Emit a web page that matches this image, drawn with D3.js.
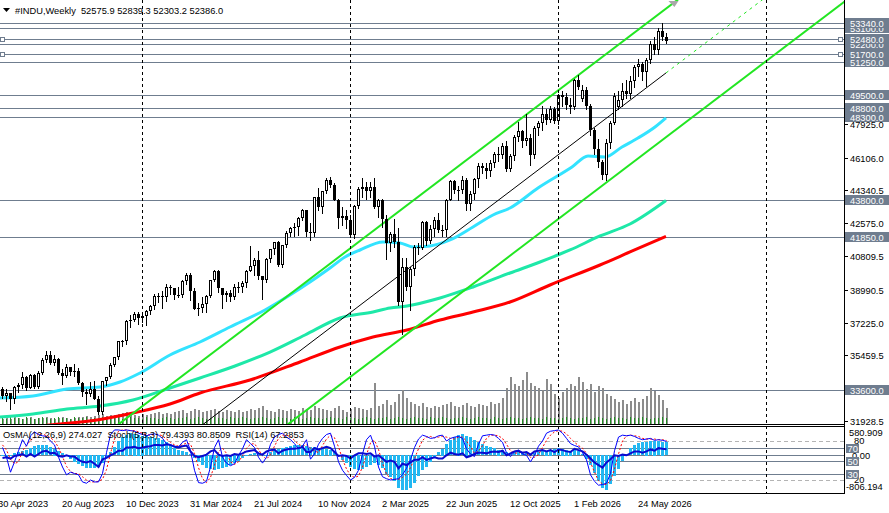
<!DOCTYPE html>
<html>
<head>
<meta charset="utf-8">
<script src="https://cdn.jsdelivr.net/npm/d3@7"></script>
<style>
  body { margin: 0; background: #fff; }
  svg { display: block; font-family: "Liberation Sans", Arial, sans-serif; font-size: 9.3px; }
  text { white-space: pre; }
</style>
</head>
<body>
<div id="chart"></div>
<script>
// weekly bars, bar 0 = week of 30 Apr 2023, first drawn bar = 1
const firstBar = 1;
// [open, high, low, close]
const candles = [
  [33674,33760,33180,33300],[33300,33650,32990,33427],[33427,33450,32580,33093],[33093,33800,32900,33762],[33762,34000,33470,33876],
  [33876,34590,33700,34299],[34299,34330,33610,33727],[33727,34450,33680,34408],[34408,34470,33690,33734],[33734,34600,33700,34509],
  [34509,35310,34480,35228],[35228,35680,35080,35459],[35459,35680,35000,35065],[35065,35490,34950,35281],[35281,35300,34470,34500],
  [34500,34720,33900,34346],[34346,34980,34300,34837],[34837,34850,34400,34577],[34577,34980,34370,34618],[34618,34800,33900,33964],
  [33964,34050,33280,33508],[33508,33650,32850,33407],[33407,34010,33300,33670],[33670,34080,33100,33127],[33127,33300,32330,32418],
  [32418,34100,32330,34061],[34061,34300,33860,34283],[34283,35060,34250,34947],[34947,35390,34900,35390],[35390,36250,35290,36245],
  [36245,36300,35980,36248],[36248,37360,36100,37305],[37305,37640,37000,37385],[37385,37780,37300,37690],[37690,37790,37130,37466],
  [37466,37790,37270,37593],[37593,37900,37120,37863],[37863,38200,37700,38109],[38109,38780,37950,38654],[38654,38800,38350,38671],
  [38671,38930,38000,38628],[38628,39280,38400,39131],[39131,39260,38750,39087],[39087,39110,38520,38723],[38723,39150,38580,38715],
  [38715,39530,38630,39475],[39475,39890,39280,39807],[39807,39900,38430,38904],[38904,39100,37950,37983],[37983,38300,37610,37986],
  [37986,38580,37800,38240],[38240,38700,37810,38676],[38676,39540,38600,39513],[39513,40080,39440,40004],[40004,40080,38900,39070],
  [39070,39090,38000,38686],[38686,38920,38400,38799],[38799,39000,38400,38589],[38589,39300,38500,39150],[39150,39400,38900,39119],
  [39119,39450,38900,39376],[39376,40050,39150,40001],[40001,41370,39980,40288],[40288,40700,39800,40589],[40589,41100,39600,39737],
  [39737,39750,38500,39497],[39497,40700,39400,40660],[40660,41200,40500,41175],[41175,41590,40900,41563],[41563,41600,40300,40345],
  [40345,41400,40200,41394],[41394,42150,41300,42063],[42063,42400,41900,42313],[42313,42600,41900,42352],[42352,42900,41950,42864],
  [42864,43330,42750,43276],[43276,43300,41900,42114],[42114,42600,41700,42052],[42052,44000,41900,43989],[43989,44480,43300,43445],
  [43445,44300,43100,44297],[44297,44990,44200,44911],[44911,45073,44500,44643],[44643,44750,43800,43828],[43828,43900,42300,42840],
  [42840,43450,42500,42992],[42992,43300,42300,42732],[42732,43000,41850,41938],[41938,43550,41800,43488],[43488,44500,43400,44424],
  [44424,45000,44000,44545],[44545,44800,43900,44303],[44303,44800,44000,44546],[44546,45000,43400,43428],[43428,43900,42900,43841],
  [43841,43900,42400,42802],[42802,43000,40660,41488],[41488,42100,41100,41985],[41985,42800,41300,41584],[41584,42300,38200,38315],
  [38315,40700,36612,40213],[40213,40700,39000,39142],[39142,40200,37900,40114],[40114,41400,39800,41317],[41317,41500,40900,41249],
  [41249,42700,41200,42655],[42655,42700,41400,41603],[41603,42500,41500,42270],[42270,42900,41900,42763],[42763,43100,42100,42197],
  [42197,42500,41900,42207],[42207,43900,41900,43819],[43819,44900,43800,44828],[44828,44900,44200,44371],[44371,44600,43800,44342],
  [44342,45100,44200,44902],[44902,45000,43300,43589],[43589,44300,43300,44176],[44176,45000,43900,44946],[44946,45800,44500,45631],
  [45631,45800,45300,45545],[45545,45800,45000,45401],[45401,46000,45100,45834],[45834,46400,45600,46315],[46315,46700,45900,46247],
  [46247,46900,46100,46758],[46758,47000,45400,45480],[45480,46300,45400,46191],[46191,47300,46000,47207],[47207,48040,47000,47563],
  [47563,47600,46700,46987],[46987,48430,46800,47147],[47147,47400,45700,46245],[46245,47800,46100,47716],[47716,48100,47300,47955],
  [47955,48890,47600,48458],[48458,48700,47900,48134],[48134,48900,48000,48710],[48710,48850,47950,48063],[48063,49550,47900,49480],
  [49480,49700,48900,49350],[49350,49600,48700,48950],[48950,49300,48500,48850],[48850,50350,48700,50300],[50300,50550,49800,49900],
  [49250,50000,49150,49750],[49750,49900,48700,48900],[48900,49000,47300,47600],[47600,47700,46300,46550],[46550,47100,45600,45850],
  [45850,46000,44950,45150],[45150,47100,44900,46900],[46900,48100,46600,47950],[47950,49600,47900,49450],[48850,49700,48700,49200],
  [49200,50100,48900,49700],[49700,50300,49300,49550],[49550,50500,49300,50250],[50250,51100,49900,51000],[51000,51400,50500,51150],
  [51150,51250,50300,50700],[50700,51450,49950,51350],[51350,52400,51200,52250],[52250,52600,51700,51900],[51900,53100,51700,52950],
  [52950,53340,52450,52575.9],[52575.9,52839.3,52303.2,52386.0]
];

const volumes = [
  5,6,5,7,6,5,6,7,5,6, 6,7,6,5,6,7,6,5,6,7, 7,8,7,8,9,10,8,9,9,10, 11,12,10,9,8,10,9,10,11,12,
  10,11,10,12,13,14,11,13,15,14, 12,13,14,15,13,12,14,13,12,14, 12,13,15,14,16,18,14,13,12,15,
  14,13,15,14,13,16,15,14,18,16, 15,14,13,16,18,14,12,15,17,16, 15,14,16,41,18,20,24,19,22,30,
  34,26,22,20,18,21,17,16,18,17, 19,20,22,18,17,19,21,18,17,20, 19,18,22,20,21,26,36,47,40,38,
  44,52,41,38,36,34,45,40,30,26, 32,36,40,38,47,42,35,40,32,38, 36,30,28,25,22,24,20,23,26,22,
  25,28,36,33,29,24,16
];
const greenTicks = [
  6,5,7,6,6,5,7,6,5,6, 7,6,5,6,7,6,6,5,7,6, 6,7,5,6,6,7,6,5,6,7, 5,6,7,6,6,5,7,6,6,5,
  6,7,6,5,6,6,7,5,6,7, 6,5,6,7,6,6,5,7,6,6, 7,6,5,6,6,7,6,5,6,7, 6,6,5,7,6,5,6,7,6,6,
  5,6,7,6,6,5,7,6,6,5, 6,7,6,5,6,6,7,5,6,7, 6,5,6,7,6,6,5,7,6,6, 7,6,5,6,6,7,6,5,6,7,
  6,6,5,7,6,5,6,7,6,6, 5,6,7,6,6,5,7,6,6,5, 6,7,6,5,6,6,7,5,6,7, 6,5,6,7,6,6,5,7,6,6,
  7,6,5,6,6,7,6
];

// moving averages: [bar, price]
const maFast = [[0.5,33167],[8.75,33275],[17.25,33651],[25.5,33759],[30.5,34028],[35.5,34513],[43,35482],[50.5,36182],
  [58,36990],[66.75,37905],[73,38712],[78,39412],[83,40166],[86.75,40758],[90.5,41135],[96.25,41566],[100.5,41512],
  [103.75,41297],[108,41351],[113,41674],[118.75,42374],[123.75,43019],[128,43396],[135,44473],[143.5,45604],
  [147.5,46196],[151.75,46142],[156,46681],[160,47163],[164.25,47758],[167,48250]];
const maMid = [[0.5,32144],[8.75,32305],[17.25,32575],[25.5,32736],[33.75,33059],[43,33705],[50.5,34244],[59.25,34890],
  [68,35643],[76.75,36559],[85.5,37474],[93.75,37797],[98,38013],[102.25,38120],[110.5,38551],[118.75,39143],
  [128,39897],[135.5,40489],[143,41135],[150.5,41889],[158,42535],[167,43800]];
const maSlow = [[0.5,31444],[13,31713],[25.5,32009],[33.75,32359],[43,32844],[50.5,33436],[63,34136],[75.5,35105],
  [85.5,35913],[93.75,36451],[102.25,36828],[110.5,37366],[118.75,37797],[128,38335],[138,39251],[150.5,40327],
  [158,41028],[167,41870]];

// price channel: middle line anchors and half width
const channelStart = [48, 31212];
const channelEnd = [167, 50668];
const channelHalf = 3462;

const levels = [33600, 41850, 43800, 48300, 48800, 49500, 51250, 51700, 52200, 52480, 53100, 53340];
const markedLevels = [52480, 51700];
const priceTicks = [47925.0, 46106.0, 44340.5, 42575.0, 40809.5, 38990.5, 37225.0, 35459.5, 31928.5];
const yearBars = [36, 88, 140, 192];
const timeTicks = [[0,'30 Apr 2023'],[16,'20 Aug 2023'],[32,'10 Dec 2023'],[48,'31 Mar 2024'],[64,'21 Jul 2024'],
  [80,'10 Nov 2024'],[96,'2 Mar 2025'],[112,'22 Jun 2025'],[128,'12 Oct 2025'],[144,'1 Feb 2026'],[160,'24 May 2026']];

// oscillators
const osma = [
  -20,-35,-10,40,70,90,110,150,190,210, 220,215,180,140,90,40,-20,-80,-140,-190,
  -240,-270,-280,-275,-260,-180,-60,60,180,300, 380,440,465,460,440,420,400,380,370,360,
  320,280,220,160,110,80,60,20,-60,-150, -220,-270,-300,-310,-300,-280,-250,-210,-170,-120,
  -60,-10,30,40,20,-10,10,60,110,130, 150,180,200,210,215,220,200,170,180,150,
  140,130,120,80,-20,-100,-170,-250,-300,-320, -300,-260,-220,-180,-210,-280,-400,-480,-560,-700,
  -740,-740,-700,-600,-450,-330,-250,-150,-40,60, 140,240,320,390,440,450,420,380,320,280,
  240,200,170,150,120,110,60,40,60,70, 50,40,30,40,60,80,100,120,130,145,
  140,120,100,110,90,30,-80,-220,-380,-550, -700,-740,-620,-450,-300,-130,20,150,220,260,
  280,290,300,310,300,290,274.027
];
const stochMain = [
  70,55,32,48,65,82,72,88,94,90, 88,87,80,74,55,40,28,32,30,28, 17,15,20,17,17,30,62,90,97,97,
  96,97,96,95,92,90,88,90,91,89, 84,76,74,72,71,78,82,65,35,16, 15,18,40,70,82,55,46,42,45,58,
  68,82,76,70,55,46,55,75,86,90, 92,86,82,76,68,72,82,52,60,75, 84,90,92,72,48,35,27,20,24,35,
  60,82,89,72,40,25,22,20,21,22, 28,38,51,70,83,89,87,84,85,88, 89,80,84,86,87,84,68,60,56,75,
  88,89,90,89,84,78,62,56,64,66, 60,58,48,58,72,80,92,95,96,97, 92,84,76,73,71,62,51,28,18,12,
  13,15,30,65,86,89,88,89,87,84, 82,83,84,81,82,81,79.4393
];
const stochSignal = [
  74,66,52,45,48,65,73,81,85,91, 91,88,85,80,70,56,41,33,30,30, 25,20,17,17,18,21,36,61,83,95,
  97,97,96,96,94,92,90,89,90,90, 88,83,78,74,72,74,77,75,61,39, 22,16,24,43,64,69,61,48,44,48,
  57,69,75,76,67,57,52,59,72,84, 89,89,87,81,75,72,74,69,65,62, 73,83,89,85,71,52,37,27,24,26,
  40,59,77,81,67,46,29,22,21,21, 24,29,39,53,68,81,86,87,85,86, 87,86,84,83,86,86,80,71,61,64,
  73,84,89,89,88,84,75,65,61,62, 63,61,55,55,59,70,81,89,94,96, 95,91,84,78,73,69,61,47,32,19,
  14,13,19,37,60,80,88,89,88,87, 84,83,83,83,82,82,80.8509
];
const rsi = [
  54,55,53,57,58,60,56,60,56,60, 64,65,61,62,57,56,58,56,56,51, 48,47,49,45,40,52,54,58,61,65,
  65,70,70,71,69,70,71,72,74,74, 73,75,74,71,70,72,73,64,57,55, 57,59,64,66,59,57,58,57,60,59,
  61,64,65,66,61,59,64,66,67,61, 65,67,68,68,69,71,63,63,69,67, 69,71,69,63,57,58,57,53,58,61,
  61,60,61,56,58,53,48,50,48,38, 45,43,47,51,51,55,51,53,55,53, 53,58,62,60,59,61,55,57,60,62,
  62,61,63,64,63,65,58,61,64,65, 62,63,59,64,65,66,64,66,63,67, 66,64,63,68,66,64,59,53,47,43,
  39,47,52,58,57,59,58,61,64,64, 62,64,67,65,69,68,67.2853
];
const stochLevelsBoxed = [70, 50, 30];
const stochLevelsDashed = [80, 20];

// layout
const W = 889, H = 513;
const right = 844;
const mainBottom = 424, indTop = 427, indBottom = 493;
const levelColor = '#6f7d8f';

const svg = d3.select('#chart').append('svg').attr('width', W).attr('height', H);

const x = d3.scaleLinear().domain([0, 211.5]).range([-2, right]);
const y = d3.scaleLinear().domain([31928.5, 53340]).range([421, 23.3]);
const yVol = d3.scaleLinear().domain([0, 60]).range([mainBottom, mainBottom - 60]);
const yOsc = d3.scaleLinear().domain([0, 100]).range([493, 428]);
const yOsma = d3.scaleLinear().domain([-806.194, 580.909]).range([493, 428]);
const px = v => Math.round(v) + 0.5;

const defs = svg.append('defs');
defs.append('clipPath').attr('id', 'clipMain').append('rect').attr('x', 0).attr('y', 0).attr('width', right).attr('height', mainBottom);
defs.append('clipPath').attr('id', 'clipInd').append('rect').attr('x', 0).attr('y', indTop).attr('width', right).attr('height', indBottom - indTop);

const main = svg.append('g').attr('clip-path', 'url(#clipMain)');
const ind = svg.append('g').attr('clip-path', 'url(#clipInd)');

// year separators
svg.append('g').selectAll('line').data(yearBars).join('line')
  .attr('x1', d => px(x(d))).attr('x2', d => px(x(d)))
  .attr('y1', 0).attr('y2', indBottom)
  .attr('stroke', '#000').attr('stroke-dasharray', '3,3');

// horizontal levels
main.append('g').selectAll('line').data(levels).join('line')
  .attr('x1', 0).attr('x2', right)
  .attr('y1', d => px(y(d))).attr('y2', d => px(y(d)))
  .attr('stroke', levelColor);

// volumes
main.append('g').selectAll('rect').data(volumes).join('rect')
  .attr('x', (d, k) => Math.round(x(firstBar + k)))
  .attr('y', d => yVol(d)).attr('width', 2).attr('height', d => mainBottom - yVol(d))
  .attr('fill', '#8c8c8c');
main.append('g').selectAll('line').data(greenTicks).join('line')
  .attr('x1', (d, k) => px(x(firstBar + k))).attr('x2', (d, k) => px(x(firstBar + k)))
  .attr('y1', mainBottom).attr('y2', d => mainBottom - d)
  .attr('stroke', '#1f8f1f');

// moving averages
const maLine = d3.line().x(d => x(d[0])).y(d => y(d[1])).curve(d3.curveMonotoneX);
[[maSlow, '#ff0000'], [maMid, '#1ee8a8'], [maFast, '#33e3ff']].forEach(([data, col]) => {
  main.append('path').datum(data).attr('d', maLine)
    .attr('fill', 'none').attr('stroke', col).attr('stroke-width', 3);
});

// channel
const slope = (channelEnd[1] - channelStart[1]) / (channelEnd[0] - channelStart[0]);
const mid = i => channelStart[1] + slope * (i - channelStart[0]);
const chLine = (off, i0, i1) => [[i0, mid(i0) + off], [i1, mid(i1) + off]];
const straight = d3.line().x(d => x(d[0])).y(d => y(d[1]));
[channelHalf, -channelHalf].forEach(off => {
  main.append('path').datum(chLine(off, -20, 230)).attr('d', straight)
    .attr('stroke', '#22e622').attr('stroke-width', 2).attr('fill', 'none');
});
main.append('path').datum(chLine(0, channelStart[0], channelEnd[0])).attr('d', straight)
  .attr('stroke', '#000').attr('stroke-width', 1).attr('fill', 'none');
main.append('path').datum(chLine(0, channelEnd[0], 230)).attr('d', straight)
  .attr('stroke', '#22e622').attr('stroke-width', 1).attr('stroke-dasharray', '3,4').attr('fill', 'none');

// marker at the top end of the upper channel line
const topBar = channelStart[0] + (y.invert(3) - channelHalf - channelStart[1]) / slope;
const tx = x(topBar);
svg.append('path').attr('d', `M${tx - 5},1L${tx + 5},1L${tx + 1},7Z`).attr('fill', '#a8a8a8');

// candles
const cg = main.append('g');
candles.forEach((c, k) => {
  const [o, h, l, cl] = c;
  const cx = Math.round(x(firstBar + k));
  cg.append('line').attr('x1', cx + 0.5).attr('x2', cx + 0.5)
    .attr('y1', Math.round(y(h))).attr('y2', Math.round(y(l)) + 1).attr('stroke', '#000');
  const top = Math.round(y(Math.max(o, cl))), bot = Math.round(y(Math.min(o, cl)));
  if (bot - top < 2) {
    cg.append('rect').attr('x', cx - 1).attr('y', top).attr('width', 3).attr('height', Math.max(1, bot - top)).attr('fill', '#000');
  } else if (cl >= o) {
    cg.append('rect').attr('x', cx - 0.5).attr('y', top + 0.5).attr('width', 2).attr('height', bot - top - 1)
      .attr('fill', '#fff').attr('stroke', '#000');
  } else {
    cg.append('rect').attr('x', cx - 1).attr('y', top).attr('width', 3).attr('height', bot - top).attr('fill', '#000');
  }
});

// selection squares of two levels
markedLevels.forEach(v => {
  [0.5, right - 5.5].forEach(sx => {
    svg.append('rect').attr('x', sx).attr('y', px(y(v)) - 2).attr('width', 4).attr('height', 4)
      .attr('fill', '#fff').attr('stroke', levelColor);
  });
});

// header
const last = candles[candles.length - 1];
svg.append('path').attr('d', 'M3,8L10,8L6.5,12Z').attr('fill', '#000');
svg.append('text').attr('x', 15).attr('y', 14)
  .text('#INDU,Weekly  ' + last.map(v => v.toFixed(1)).join(' '));

// indicator window
const n = candles.length - 1;
svg.append('text').attr('x', 3).attr('y', 438)
  .text(`OsMA(12,26,9) ${osma[n].toFixed(3)}  Stoch(5,3,3) ${stochMain[n].toFixed(4)} ${stochSignal[n].toFixed(4)}  RSI(14) ${rsi[n].toFixed(4)}`);

ind.append('g').selectAll('line').data(stochLevelsDashed).join('line')
  .attr('x1', 0).attr('x2', right).attr('y1', d => px(yOsc(d))).attr('y2', d => px(yOsc(d)))
  .attr('stroke', '#b4b4b4').attr('stroke-dasharray', '4,3');
ind.append('g').selectAll('line').data(stochLevelsBoxed).join('line')
  .attr('x1', 0).attr('x2', right).attr('y1', d => px(yOsc(d))).attr('y2', d => px(yOsc(d)))
  .attr('stroke', levelColor);
ind.append('line').attr('x1', 0).attr('x2', right).attr('y1', px(yOsma(0))).attr('y2', px(yOsma(0)))
  .attr('stroke', levelColor);

ind.append('g').selectAll('rect').data(osma).join('rect')
  .attr('x', (d, k) => Math.round(x(firstBar + k)) - 1)
  .attr('y', d => Math.round(Math.min(yOsma(0), yOsma(d))))
  .attr('width', 3)
  .attr('height', d => Math.max(1, Math.round(Math.abs(yOsma(d) - yOsma(0)))))
  .attr('fill', '#22b8f2');

const oscLine = d3.line().x((d, k) => x(firstBar + k) + 0.5).y(d => yOsc(d));
ind.append('path').datum(stochSignal).attr('d', oscLine).attr('fill', 'none')
  .attr('stroke', '#ff0000').attr('stroke-dasharray', '2,2');
ind.append('path').datum(stochMain).attr('d', oscLine).attr('fill', 'none').attr('stroke', '#0000ff');
ind.append('path').datum(rsi).attr('d', oscLine).attr('fill', 'none')
  .attr('stroke', '#0a0ad0').attr('stroke-width', 2);

// frames
const frame = svg.append('g').attr('stroke', '#000');
frame.append('line').attr('x1', 0).attr('x2', right + 1).attr('y1', mainBottom + 0.5).attr('y2', mainBottom + 0.5);
frame.append('line').attr('x1', 0).attr('x2', right + 1).attr('y1', indTop - 0.5).attr('y2', indTop - 0.5);
frame.append('line').attr('x1', 0).attr('x2', right + 1).attr('y1', indBottom + 0.5).attr('y2', indBottom + 0.5);
frame.append('line').attr('x1', right + 0.5).attr('x2', right + 0.5).attr('y1', 0).attr('y2', indBottom + 1);

// price axis
const ax = svg.append('g');
priceTicks.forEach(v => {
  const ty = px(y(v));
  ax.append('line').attr('x1', right).attr('x2', right + 4).attr('y1', ty).attr('y2', ty).attr('stroke', '#000');
  ax.append('text').attr('x', right + 6).attr('y', ty).attr('dy', '0.35em').text(v.toFixed(1));
});
levels.forEach(v => {
  const ty = px(y(v));
  ax.append('rect').attr('x', right + 1).attr('y', ty - 5.5).attr('width', 44).attr('height', 10).attr('fill', levelColor);
  ax.append('text').attr('x', right + 6).attr('y', ty).attr('dy', '0.35em').attr('fill', '#fff').text(v.toFixed(1));
});

// oscillator axis
ax.append('text').attr('x', right + 5).attr('y', 433).attr('dy', '0.35em').text('580.909');
stochLevelsDashed.forEach(v => {
  ax.append('text').attr('x', right + 10).attr('y', px(yOsc(v)) - 1).attr('dy', '0.35em').text(v);
});
ax.append('text').attr('x', right + 8).attr('y', px(yOsma(0))).attr('dy', '0.35em').text('0.00');
ax.append('text').attr('x', right + 2).attr('y', 487).attr('dy', '0.35em').text('-806.194');
stochLevelsBoxed.forEach(v => {
  const ty = px(yOsc(v));
  ax.append('rect').attr('x', right + 2).attr('y', ty - 4.5).attr('width', 13).attr('height', 9).attr('fill', levelColor);
  ax.append('text').attr('x', right + 3.5).attr('y', ty).attr('dy', '0.35em').attr('fill', '#fff').text(v);
});

// time axis
svg.append('g').selectAll('text').data(timeTicks).join('text')
  .attr('x', d => x(d[0])).attr('y', 507).text(d => d[1]);
</script>
</body>
</html>
